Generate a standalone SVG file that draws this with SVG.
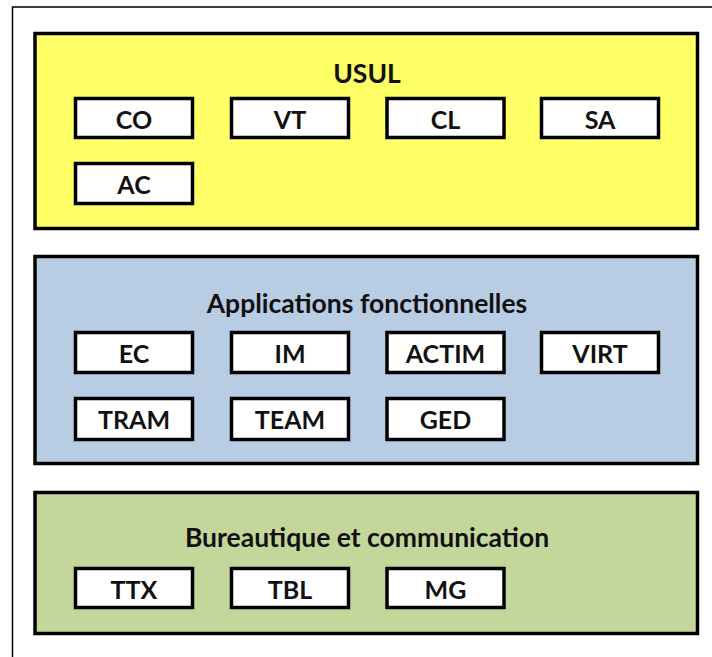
<svg xmlns="http://www.w3.org/2000/svg" width="712" height="657" viewBox="0 0 712 657">
<style>
.frame{fill:#fff;stroke:#000;stroke-width:1.5}
.grp{stroke:#000;stroke-width:3.5}
.box{fill:#fff;stroke:#000;stroke-width:3.5}
.t{font-family:Lato,"Open Sans",sans-serif;font-weight:bold;font-size:25px;fill:#111;text-anchor:middle}
.h{font-family:Lato,"Open Sans",sans-serif;font-weight:bold;font-size:26.5px;fill:#111;text-anchor:middle}
</style>
<rect class="frame" x="12.5" y="7" width="710" height="660"/>
<g id="usul">
<rect class="grp" x="35" y="33.5" width="662.5" height="195" fill="#ffff66"/>
<text class="h" x="367" y="83">USUL</text>
</g>
<g id="CO"><rect class="box" x="75.5" y="98.5" width="117" height="39"/><text class="t" x="134" y="129">CO</text></g>
<g id="VT"><rect class="box" x="231.5" y="98.5" width="117" height="39"/><text class="t" x="290" y="129">VT</text></g>
<g id="CL"><rect class="box" x="387" y="98.5" width="117" height="39"/><text class="t" x="445.5" y="129">CL</text></g>
<g id="SA"><rect class="box" x="541.5" y="98.5" width="117" height="39"/><text class="t" x="600" y="129">SA</text></g>
<g id="AC"><rect class="box" x="75.5" y="163.5" width="117" height="40"/><text class="t" x="134" y="194">AC</text></g>
<g id="apps">
<rect class="grp" x="35" y="256.5" width="662.5" height="207" fill="#b8cce4"/>
<text class="h" x="367" y="313">Applications fonctionnelles</text>
</g>
<g id="EC"><rect class="box" x="75.5" y="332.5" width="117" height="40"/><text class="t" x="134" y="363">EC</text></g>
<g id="IM"><rect class="box" x="231.5" y="332.5" width="117" height="40"/><text class="t" x="290" y="363">IM</text></g>
<g id="ACTIM"><rect class="box" x="387" y="332.5" width="117" height="40"/><text class="t" x="445.5" y="363">ACTIM</text></g>
<g id="VIRT"><rect class="box" x="541.5" y="332.5" width="117" height="40"/><text class="t" x="600" y="363">VIRT</text></g>
<g id="TRAM"><rect class="box" x="75.5" y="398.5" width="117" height="41"/><text class="t" x="134" y="428.5">TRAM</text></g>
<g id="TEAM"><rect class="box" x="231.5" y="398.5" width="117" height="41"/><text class="t" x="290" y="428.5">TEAM</text></g>
<g id="GED"><rect class="box" x="387" y="398.5" width="117" height="41"/><text class="t" x="445.5" y="428.5">GED</text></g>
<g id="bureau">
<rect class="grp" x="35" y="492.5" width="662.5" height="141" fill="#c4d79b"/>
<text class="h" x="367" y="547">Bureautique et communication</text>
</g>
<g id="TTX"><rect class="box" x="75.5" y="568.5" width="117" height="39"/><text class="t" x="134" y="599">TTX</text></g>
<g id="TBL"><rect class="box" x="231.5" y="568.5" width="117" height="39"/><text class="t" x="290" y="599">TBL</text></g>
<g id="MG"><rect class="box" x="387" y="568.5" width="117" height="39"/><text class="t" x="445.5" y="599">MG</text></g>
<g id="connectors"/>
</svg>
